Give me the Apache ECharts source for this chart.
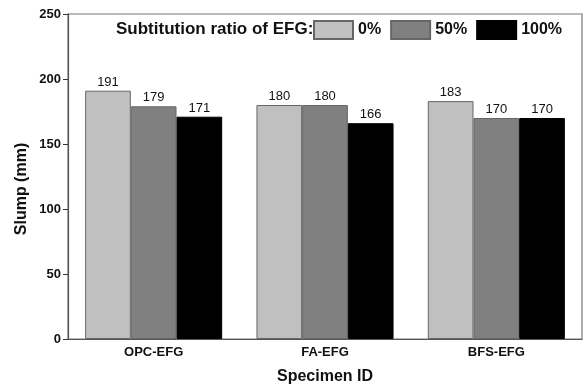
<!DOCTYPE html>
<html><head><meta charset="utf-8">
<script src="https://cdn.jsdelivr.net/npm/echarts@6/dist/echarts.min.js"></script>
<style>html,body{margin:0;padding:0;background:#fff}#c{width:585px;height:390px}</style>
</head><body><div id="c"></div>
<script>
const categories = ['OPC-EFG', 'FA-EFG', 'BFS-EFG'];
const seriesNames = ['0%', '50%', '100%'];
const s0 = [191, 180, 183];
const s50 = [179, 180, 170];
const s100 = [171, 166, 170];
const yTicks = [0, 50, 100, 150, 200, 250];

const colors = ['#c0c0c0', '#808080', '#000000'];
const data = [s0, s50, s100];
const font = 'Liberation Sans, Arial, sans-serif';
const chart = echarts.init(document.getElementById('c'), null, {renderer: 'canvas'});
chart.setOption({
  animation: false,
  backgroundColor: '#fff',
  title: {
    text: 'Subtitution ratio of EFG:', left: 111, top: 16,
    textStyle: {fontFamily: font, fontWeight: 'bold', fontSize: 17, color: '#111'}
  },
  legend: {
    left: 308, top: 15, itemWidth: 39, itemHeight: 18, itemGap: 9,
    data: seriesNames,
    textStyle: {fontFamily: font, fontWeight: 'bold', fontSize: 16, color: '#111'},
    icon: 'rect'
  },
  graphic: [{
    type: 'text', x: 22, y: 189, rotation: Math.PI / 2,
    style: {text: 'Slump (mm)', fontFamily: font, fontWeight: 'bold', fontSize: 16, fill: '#111',
      textAlign: 'center', textVerticalAlign: 'middle'}
  }],
  grid: {left: 68, right: 3, top: 14, bottom: 48, show: true, borderColor: '#777', borderWidth: 1.2},
  xAxis: {
    type: 'category', data: categories,
    name: 'Specimen ID', nameLocation: 'middle', nameGap: 30,
    nameTextStyle: {fontFamily: font, fontWeight: 'bold', fontSize: 16, color: '#111'},
    axisLine: {lineStyle: {color: '#555', width: 1.2}},
    axisTick: {inside: true, length: 4, lineStyle: {color: '#333'}},
    axisLabel: {fontFamily: font, fontWeight: 'bold', fontSize: 13, color: '#111', margin: 7}
  },
  yAxis: {
    type: 'value', min: yTicks[0], max: yTicks[yTicks.length - 1], interval: 50,
    axisLine: {show: true, lineStyle: {color: '#555', width: 1.2}},
    axisTick: {show: true, length: 5, lineStyle: {color: '#333'}},
    splitLine: {show: false},
    axisLabel: {fontFamily: font, fontWeight: 'bold', fontSize: 13, color: '#111', margin: 7}
  },
  series: data.map((d, i) => ({
    name: seriesNames[i], type: 'bar', data: d,
    barGap: '0%', barCategoryGap: '20%',
    itemStyle: {color: colors[i], borderColor: i === 2 ? '#000' : '#666', borderWidth: 1},
    label: {show: true, position: 'top', distance: 2, fontFamily: font, fontSize: 13, color: '#111'}
  }))
});
</script></body></html>
